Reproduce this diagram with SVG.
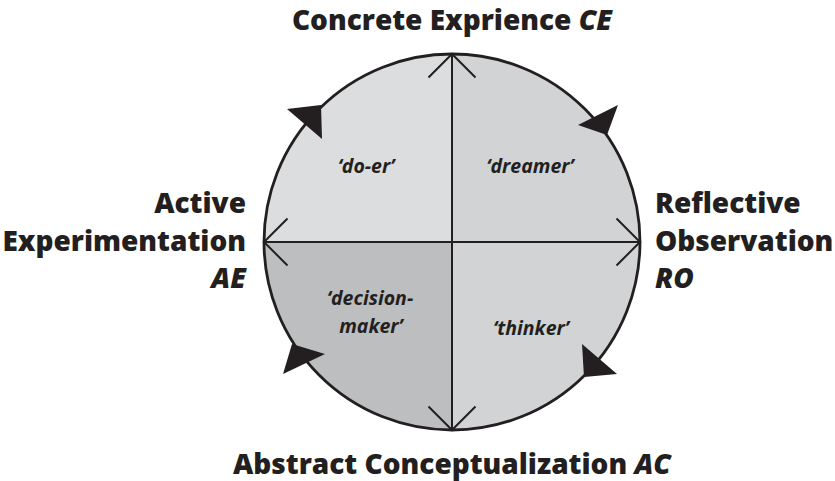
<svg xmlns="http://www.w3.org/2000/svg" width="835" height="481" viewBox="0 0 835 481">
<style>
.pole{font-family:"Open Sans","Liberation Sans",sans-serif;font-weight:800;font-size:28px;fill:#231f20}
.it{font-style:italic}
.role{font-family:"Open Sans","Liberation Sans",sans-serif;font-weight:700;font-style:italic;font-size:19.5px;fill:#231f20;text-anchor:middle}
.q{stroke:none}
.ax{fill:none;stroke:#231f20;stroke-width:2;stroke-linecap:butt;stroke-linejoin:miter}
.ring{fill:none;stroke:#231f20;stroke-width:2.8}
.head{fill:#231f20;stroke:none}
</style>
<rect width="835" height="481" fill="#ffffff"/>
<g id="doer">
<path class="q" d="M452,242 L264,242 A188,188 0 0 1 452,54 Z" fill="#dcdddf"/>
<text class="role" x="366" y="173">‘do-er’</text>
</g>
<g id="dreamer">
<path class="q" d="M452,242 L452,54 A188,188 0 0 1 640,242 Z" fill="#d1d3d4"/>
<text class="role" x="530" y="173">‘dreamer’</text>
</g>
<g id="thinker">
<path class="q" d="M452,242 L640,242 A188,188 0 0 1 452,430 Z" fill="#d1d3d4"/>
<text class="role" x="531" y="335">‘thinker’</text>
</g>
<g id="decision-maker">
<path class="q" d="M452,242 L452,430 A188,188 0 0 1 264,242 Z" fill="#bcbec0"/>
<text class="role" x="370" y="305">‘decision-</text>
<text class="role" x="371" y="333">maker’</text>
</g>
<g id="connectors">
<circle class="ring" cx="452" cy="242" r="188"/>
<path class="ax" d="M452,54 L452,430 M264,242 L640,242"/>
<path class="ax" d="M428.5,77.5 L452,54 L475.5,77.5"/>
<path class="ax" d="M428.5,406.5 L452,430 L475.5,406.5"/>
<path class="ax" d="M287.5,218.5 L264,242 L287.5,265.5"/>
<path class="ax" d="M616.5,218.5 L640,242 L616.5,265.5"/>
<polygon class="head" points="287,109 321,105 322,139"/>
<polygon class="head" points="578,125 618,105 607,135"/>
<polygon class="head" points="582,344 617,374 584,377"/>
<polygon class="head" points="292,344 325,354 283,374"/>
</g>
<g id="CE">
<text class="pole" x="452" y="30" text-anchor="middle">Concrete Exprience <tspan class="it">CE</tspan></text>
</g>
<g id="RO">
<text class="pole" x="655" y="213">Reflective</text>
<text class="pole" x="655" y="251">Observation</text>
<text class="pole it" x="655" y="288">RO</text>
</g>
<g id="AC">
<text class="pole" x="452" y="474" text-anchor="middle">Abstract Conceptualization <tspan class="it">AC</tspan></text>
</g>
<g id="AE">
<text class="pole" x="246" y="213" text-anchor="end">Active</text>
<text class="pole" x="246" y="251" text-anchor="end">Experimentation</text>
<text class="pole it" x="246" y="288" text-anchor="end">AE</text>
</g>
</svg>
